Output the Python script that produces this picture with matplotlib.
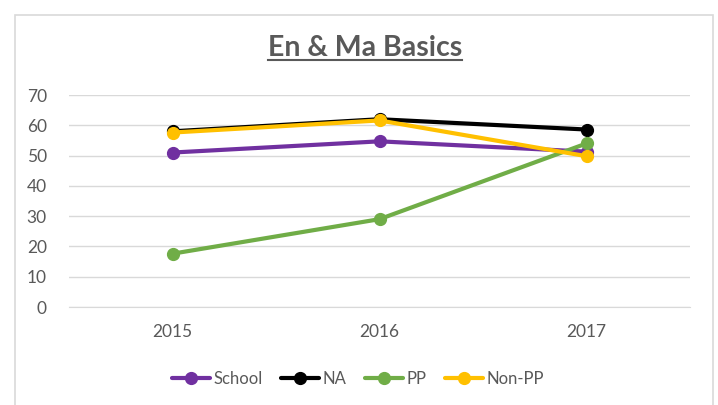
import matplotlib
matplotlib.use("Agg")
import matplotlib.pyplot as plt
from matplotlib.patches import Rectangle
from matplotlib.lines import Line2D

years = ["2015", "2016", "2017"]
school = [51, 54.7, 51.3]
na = [58, 62, 58.6]
pp = [17.6, 29, 54]
non_pp = [57.6, 61.6, 49.8]
series_names = ["School", "NA", "PP", "Non-PP"]
colors = ["#7030A0", "#000000", "#70AD47", "#FFC000"]

plt.rcParams['font.family'] = ['Lato', 'DejaVu Sans']

fig = plt.figure(figsize=(7.18, 4.05), dpi=100)
fig.patch.set_facecolor("white")
# outer chart border
fig.patches.append(Rectangle((15/718, -0.05), (713-15)/718, 1 - 15/405 + 0.05,
                             transform=fig.transFigure, fill=False,
                             edgecolor="#D9D9D9", linewidth=1.2))

ax = fig.add_axes([69/718, 1-307/405, (690-69)/718, (307-95)/405])
x = range(len(years))
for vals, name, c in zip([school, na, pp, non_pp], series_names, colors):
    ax.plot(x, vals, color=c, linewidth=3, marker="o", markersize=8.5,
            label=name, solid_capstyle="round")

ax.set_xlim(-0.5, len(years) - 0.5)
ax.set_ylim(0, 70)
ax.set_yticks(range(0, 71, 10))
ax.set_xticks(list(x))
ax.set_xticklabels(years)
ax.yaxis.grid(True, color="#D9D9D9", linewidth=1)
ax.set_axisbelow(True)
for s in ["top", "right", "left"]:
    ax.spines[s].set_visible(False)
ax.spines["bottom"].set_color("#D9D9D9")
ax.tick_params(axis="both", length=0, labelsize=12.5, labelcolor="#595959")
ax.tick_params(axis="y", pad=16)
ax.tick_params(axis="x", pad=12)

leg = fig.legend(loc="center", bbox_to_anchor=(358/718, 1-379/405), ncol=4,
                 frameon=False, fontsize=12, handlelength=2.3,
                 columnspacing=1.1, handletextpad=0.2)
for t in leg.get_texts():
    t.set_color("#595959")

title = fig.text(365/718, 1-48/405, "En & Ma Basics", ha="center", va="center",
                 fontsize=20.5, fontweight="bold", color="#595959")
fig.canvas.draw()
bb = title.get_window_extent().transformed(fig.transFigure.inverted())
fig.add_artist(Line2D([bb.x0, bb.x1], [bb.y0 + 0.003, bb.y0 + 0.003],
                      transform=fig.transFigure, color="#595959", linewidth=1.5))

fig.savefig("out.png", dpi=100)
